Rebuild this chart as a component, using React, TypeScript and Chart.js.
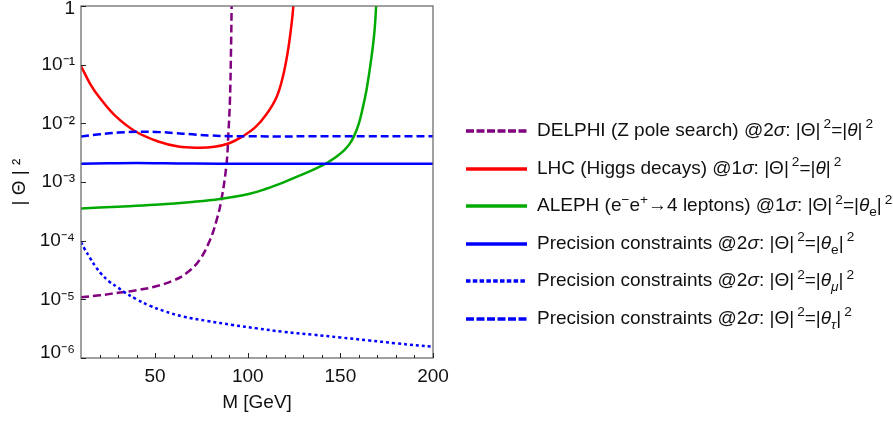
import React, { useEffect, useRef } from 'react';
import { Chart, registerables } from 'chart.js';

Chart.register(...registerables);

// ---------- data ----------
const M_DELPHI = [10, 20, 30, 40, 50, 60, 67, 74, 79.6, 83.2, 85.9, 88.6, 89.5, 90.4, 91, 91.3, 91.5];
const V_DELPHI = [1.08e-5, 1.17e-5, 1.29e-5, 1.43e-5, 1.65e-5, 2.1e-5, 2.8e-5, 4.7e-5, 1.02e-4, 2.24e-4, 5.2e-4, 2.1e-3, 6.3e-3, 0.025, 0.2, 1, 3];

const M_LHC = [10, 15, 20, 28.4, 39, 51.7, 62.5, 73, 82, 90, 97.4, 104, 110, 115.6, 119, 121.5, 123.3, 124.6, 125.3];
const V_LHC = [0.095, 0.0468, 0.0275, 0.0135, 0.00741, 0.0049, 0.00403, 0.00385, 0.00398, 0.00457, 0.00603, 0.00851, 0.0141, 0.0282, 0.0631, 0.158, 0.398, 1, 3.16];

const M_ALEPH = [10, 30, 50, 70, 85, 101, 110, 119, 127, 134, 140, 144, 148, 152, 155, 157.5, 160, 162, 164, 166, 167.5, 168.5, 169.3, 169.8];
const V_ALEPH = [3.55e-4, 3.8e-4, 4.1e-4, 4.57e-4, 5.13e-4, 6.3e-4, 7.67e-4, 9.77e-4, 1.245e-3, 1.55e-3, 1.9e-3, 2.24e-3, 2.72e-3, 3.47e-3, 4.47e-3, 6.17e-3, 0.01, 0.0178, 0.0355, 0.0891, 0.2, 0.398, 1, 2.5];

const M_PREC_E = [10, 25, 40, 55, 70, 100, 150, 200];
const V_PREC_E = [2.05e-3, 2.08e-3, 2.1e-3, 2.08e-3, 2.06e-3, 2.05e-3, 2.05e-3, 2.05e-3];

const M_PREC_MU = [10, 12, 15, 18, 21, 25, 30, 33, 40, 47, 55, 65, 78, 92, 105, 119, 135, 150, 165, 180, 200];
const V_PREC_MU = [9.5e-5, 7.2e-5, 5.0e-5, 3.55e-5, 2.7e-5, 2.04e-5, 1.58e-5, 1.35e-5, 1.0e-5, 7.8e-6, 6.3e-6, 5.1e-6, 4.3e-6, 3.65e-6, 3.2e-6, 2.8e-6, 2.5e-6, 2.24e-6, 2.0e-6, 1.78e-6, 1.55e-6];

const M_PREC_TAU = [10, 20, 30, 40, 50, 60, 70, 80, 90, 100, 150, 200];
const V_PREC_TAU = [5.95e-3, 6.5e-3, 6.95e-3, 7.2e-3, 7.15e-3, 6.85e-3, 6.5e-3, 6.2e-3, 6.05e-3, 6.0e-3, 6.0e-3, 6.0e-3];

const X_MAJOR = [50, 100, 150, 200];
const X_MINOR = [20, 30, 40, 60, 70, 80, 90, 110, 120, 130, 140, 160, 170, 180, 190];
const Y_TICKS = [1e-6, 1e-5, 1e-4, 1e-3, 1e-2, 1e-1, 1];

const PURPLE = '#800080';
const RED = '#ff0000';
const GREEN = '#00aa00';
const BLUE = '#0000ff';

const FONT = '"Liberation Sans", Arial, sans-serif';

const SUP: Record<string, string> = { '-': '⁻', '0': '⁰', '1': '¹', '2': '²', '3': '³', '4': '⁴', '5': '⁵', '6': '⁶', '7': '⁷', '8': '⁸', '9': '⁹' };
function fmtPow(v: number): string {
  const e = Math.round(Math.log10(v));
  if (e === 0) return '1';
  return '10' + String(e).split('').map((c) => SUP[c] || c).join('');
}

const pts = (xs: number[], ys: number[]) => xs.map((x, i) => ({ x, y: ys[i] }));

// nudge the end labels inside the frame (as the reference does)
const labelNudge = {
  id: 'labelNudge',
  beforeDraw(chart: any) {
    const ys = chart.scales.y;
    const items = ys.getLabelItems(chart.chartArea);
    for (const it of items) {
      if (it.label === '1') it.options.translation = [it.options.translation[0], it.options.translation[1] + 3];
      if (it.label === fmtPow(1e-6)) it.options.translation = [it.options.translation[0], it.options.translation[1] - 5];
    }
  },
};

const framePlugin = {
  id: 'frameTicks',
  afterDraw(chart: any) {
    const { ctx, chartArea, scales } = chart;
    const { left, right, top, bottom } = chartArea;
    const xs = scales.x;
    const ys = scales.y;
    ctx.save();
    ctx.strokeStyle = '#6e6e6e';
    ctx.lineWidth = 1.3;
    ctx.strokeRect(left, top, right - left, bottom - top);
    ctx.strokeStyle = '#222';
    ctx.lineWidth = 1;
    ctx.beginPath();
    for (const v of X_MAJOR) {
      const px = Math.round(xs.getPixelForValue(v)) + 0.5;
      ctx.moveTo(px, bottom);
      ctx.lineTo(px, bottom - 5);
    }
    for (const v of X_MINOR) {
      const px = Math.round(xs.getPixelForValue(v)) + 0.5;
      ctx.moveTo(px, bottom);
      ctx.lineTo(px, bottom - 3);
    }
    for (const v of Y_TICKS) {
      const py = Math.round(ys.getPixelForValue(v)) + 0.5;
      ctx.moveTo(left, py);
      ctx.lineTo(left + 5, py);
    }
    ctx.stroke();
    ctx.restore();
  },
};

function Sup({ children }: { children: React.ReactNode }) {
  return <span style={{ fontSize: '72%', position: 'relative', top: '-0.55em', marginLeft: 3 }}>{children}</span>;
}
function Sup2({ children }: { children: React.ReactNode }) {
  return <span style={{ fontSize: '72%', position: 'relative', top: '-0.5em' }}>{children}</span>;
}
function Sub({ children }: { children: React.ReactNode }) {
  return <span style={{ fontSize: '72%', position: 'relative', top: '0.35em' }}>{children}</span>;
}

const legendItems = [
  { color: PURPLE, dash: '8 2.5', content: (<>DELPHI (Z pole search) @2<i>σ</i>: |Θ|<Sup>2</Sup>=|<i>θ</i>|<Sup>2</Sup></>) },
  { color: RED, dash: '', content: (<>LHC (Higgs decays) @1<i>σ</i>: |Θ|<Sup>2</Sup>=|<i>θ</i>|<Sup>2</Sup></>) },
  { color: GREEN, dash: '', content: (<>ALEPH (e<Sup2>−</Sup2>e<Sup2>+</Sup2>→4 leptons) @1<i>σ</i>: |Θ|<Sup>2</Sup>=|<i>θ</i><Sub>e</Sub>|<Sup>2</Sup></>) },
  { color: BLUE, dash: '', content: (<>Precision constraints @2<i>σ</i>: |Θ|<Sup>2</Sup>=|<i>θ</i><Sub>e</Sub>|<Sup>2</Sup></>) },
  { color: BLUE, dash: '4.5 2.3', content: (<>Precision constraints @2<i>σ</i>: |Θ|<Sup>2</Sup>=|<i>θ</i><Sub><i>μ</i></Sub>|<Sup>2</Sup></>) },
  { color: BLUE, dash: '8 2.5', content: (<>Precision constraints @2<i>σ</i>: |Θ|<Sup>2</Sup>=|<i>θ</i><Sub><i>τ</i></Sub>|<Sup>2</Sup></>) },
];

export default function App() {
  const canvasRef = useRef<HTMLCanvasElement | null>(null);

  useEffect(() => {
    const canvas = canvasRef.current;
    if (!canvas) return;
    const common = { pointRadius: 0, borderWidth: 2.5, fill: false, tension: 0.4, borderCapStyle: 'butt' as const };
    const chart = new Chart(canvas, {
      type: 'line',
      data: {
        datasets: [
          { label: 'Precision θμ', data: pts(M_PREC_MU, V_PREC_MU), borderColor: BLUE, borderDash: [3, 3], ...common },
          { label: 'Precision θe', data: pts(M_PREC_E, V_PREC_E), borderColor: BLUE, ...common },
          { label: 'Precision θτ', data: pts(M_PREC_TAU, V_PREC_TAU), borderColor: BLUE, borderDash: [8, 4], ...common },
          { label: 'ALEPH', data: pts(M_ALEPH, V_ALEPH), borderColor: GREEN, ...common },
          { label: 'LHC', data: pts(M_LHC, V_LHC), borderColor: RED, ...common },
          { label: 'DELPHI', data: pts(M_DELPHI, V_DELPHI), borderColor: PURPLE, borderDash: [8, 4], ...common },
        ],
      },
      options: {
        animation: false,
        responsive: false,
        devicePixelRatio: 1,
        layout: { padding: { top: 6, right: 460, left: 0, bottom: 0 } },
        plugins: { legend: { display: false }, tooltip: { enabled: false } },
        scales: {
          x: {
            type: 'linear',
            min: 10,
            max: 200,
            grid: { display: false, drawTicks: false },
            border: { display: false },
            afterBuildTicks: (s: any) => { s.ticks = X_MAJOR.map((v) => ({ value: v })); },
            afterFit: (s: any) => { s.height = 63; s.paddingLeft = 0; s.paddingRight = 0; },
            ticks: { color: '#111', font: { family: FONT, size: 19 }, padding: 7, maxRotation: 0 },
            title: { display: true, text: 'M [GeV]', color: '#111', font: { family: FONT, size: 19 }, padding: { top: 0, bottom: 7 } },
          },
          y: {
            type: 'logarithmic',
            min: 1e-6,
            max: 1,
            grid: { display: false, drawTicks: false },
            border: { display: false },
            afterBuildTicks: (s: any) => { s.ticks = Y_TICKS.map((v) => ({ value: v })); },
            afterFit: (s: any) => { s.width = 81; s.paddingTop = 0; s.paddingBottom = 0; },
            ticks: { color: '#111', font: { family: FONT, size: 19 }, padding: 6, callback: (v: any) => fmtPow(Number(v)) },
            title: { display: true, text: '| Θ | ²', color: '#111', font: { family: FONT, size: 19 }, padding: { top: 8, bottom: 0 } },
          },
        },
      },
      plugins: [labelNudge, framePlugin],
    } as any);
    return () => chart.destroy();
  }, []);

  return (
    <div style={{ position: 'fixed', left: 0, top: 0, width: 893, height: 421, background: '#fff', overflow: 'hidden' }}>
      <canvas ref={canvasRef} width={893} height={421} style={{ display: 'block', position: 'absolute', left: 0, top: 0 }} />
      {legendItems.map((it, i) => {
        const cy = 131 + i * 37.6;
        return (
          <div key={i} style={{ position: 'absolute', left: 466, top: cy - 14, height: 28, display: 'flex', alignItems: 'center', whiteSpace: 'nowrap', fontFamily: FONT, fontSize: 19, color: '#111' }}>
            <svg width={61} height={6} style={{ display: 'block', flex: '0 0 auto' }}>
              <line x1={0} y1={3} x2={61} y2={3} stroke={it.color} strokeWidth={3.5} strokeDasharray={it.dash || undefined} />
            </svg>
            <span style={{ marginLeft: 10, lineHeight: '28px' }}>{it.content}</span>
          </div>
        );
      })}
    </div>
  );
}
